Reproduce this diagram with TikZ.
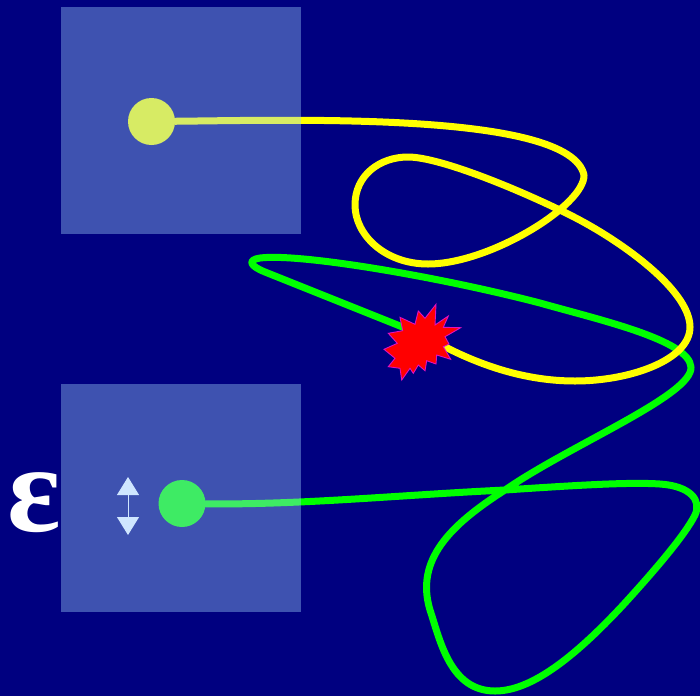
\documentclass[tikz,border=0pt]{standalone}
\usepackage{amsmath,amssymb}
\usepackage{fontspec}
\newfontfamily\epsfont{Liberation Serif}
\usetikzlibrary{arrows.meta}
\definecolor{SkyNavy}{HTML}{000080}
\definecolor{SkyPanel}{HTML}{9BCDFA}
\definecolor{SkyArrow}{HTML}{CFE6FF}
\definecolor{SkyYellow}{HTML}{FFFF00}
\definecolor{SkyGreen}{HTML}{00FF00}
\definecolor{SkyRed}{HTML}{FF0000}
\definecolor{SkyEdge}{HTML}{E010C0}

\begin{document}
\begin{tikzpicture}[
      x=1pt,y=-1pt,
      track/.style={line width=7pt,line cap=round,line join=round},
      source/.style={circle,minimum size=47pt,inner sep=0pt},
      panel/.style={fill=SkyPanel,fill opacity=0.4,draw=none},
      burst/.style={fill=SkyRed,draw=SkyEdge,line width=0.9pt,line join=miter},
      updown/.style={{Triangle[length=18pt,width=22pt]}-{Triangle[length=18pt,width=22pt]},
        draw=SkyArrow,line width=1pt}
    ]
    \useasboundingbox (0,0) rectangle (700,696);
    \fill[SkyNavy] (0,0) rectangle (700,696);

    \node[source,fill=SkyYellow] (upper) at (151.5,121.5) {};
    \node[source,fill=SkyGreen] (lower) at (182,503.5) {};
    \coordinate (hit) at (425,336);
    \coordinate (rangetop) at (128,477);
    \coordinate (rangebot) at (128,535);

    % the two tracks
    \draw[track,draw=SkyGreen] (lower)
      .. controls (300,505) and (400,495) .. (505,490)
      .. controls (580,485) and (630,482) .. (660,484)
      .. controls (690,486) and (702,500) .. (695,515)
      .. controls (685,535) and (655,570) .. (624,604)
      .. controls (572,660) and (530,691) .. (495,691)
      .. controls (450,691) and (440,640) .. (430,610)
      .. controls (415,560) and (450,525) .. (505,490)
      .. controls (570,445) and (693,395) .. (691,367)
      .. controls (689,340) and (600,320) .. (540,303)
      .. controls (440,277) and (300,253) .. (260,258)
      .. controls (247,260) and (250,266) .. (265,272)
      .. controls (310,290) and (380,318) .. (hit);
    \draw[track,draw=SkyYellow] (upper)
      .. controls (300,120) and (570,112) .. (584,175)
      .. controls (585,205) and (490,264) .. (428,264)
      .. controls (385,264) and (355,235) .. (355,205)
      .. controls (355,175) and (380,157) .. (408,157)
      .. controls (440,157) and (520,190) .. (570,215)
      .. controls (620,240) and (690,290) .. (690,327)
      .. controls (690,360) and (630,381) .. (575,381)
      .. controls (520,381) and (470,362) .. (hit);

    \draw[burst] (436,304.3) -- (435,325) -- (448.3,316) -- (443.3,327.3)
      -- (460.7,327.7) -- (445,336.7) -- (449,344) -- (443.3,346.7)
      -- (450.7,359.3) -- (436.7,355) -- (436,364) -- (426.7,360.7)
      -- (425,370.7) -- (418.3,365) -- (413.3,373.3) -- (410,368.3)
      -- (401.7,380) -- (400,368.3) -- (388.3,366.7) -- (395,358.3)
      -- (384,349.3) -- (397.3,343.3) -- (388.3,333.3) -- (402.7,330.7)
      -- (400,317.3) -- (415,324.3) -- (418.3,311) -- (425,318.3) -- cycle;

    \fill[panel] (61,7) rectangle (301,234);
    \fill[panel] (61,384) rectangle (301,612);

    \draw[updown] (rangetop) -- (rangebot);
    \node[text=white,font=\epsfont\bfseries\fontsize{125}{125}\selectfont,inner sep=0pt] (eps) at (34,503) {ε};
  \end{tikzpicture}
\end{document}
